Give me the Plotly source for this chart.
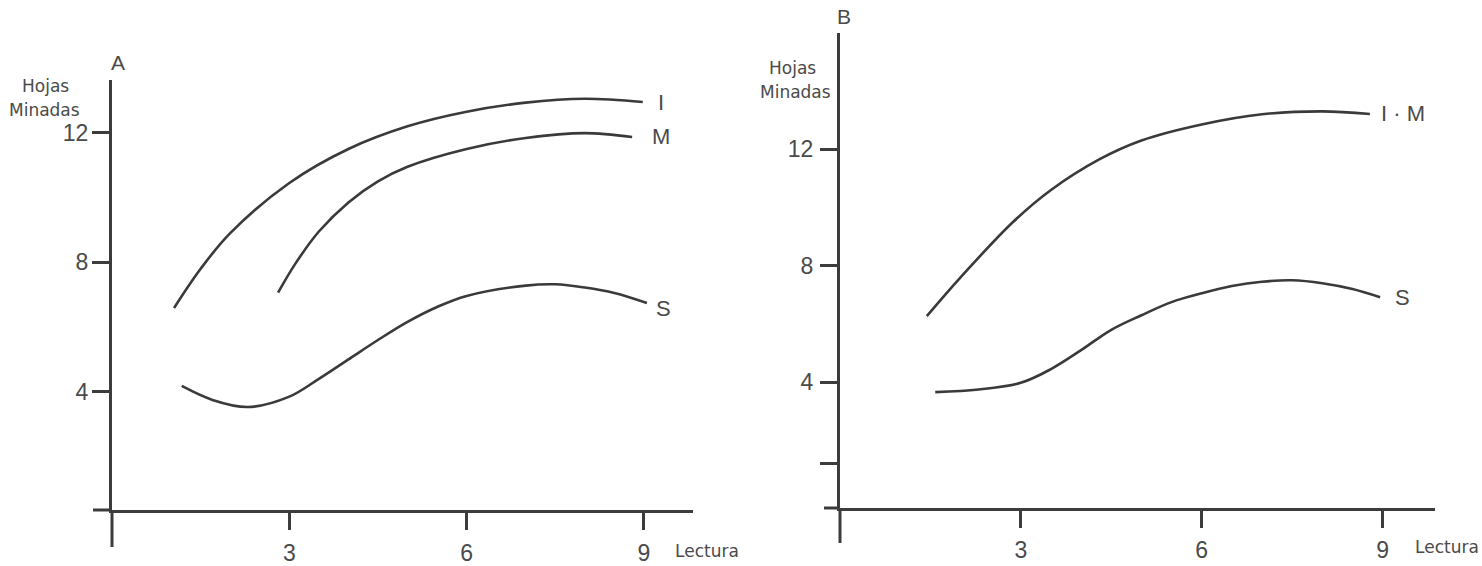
import plotly.graph_objects as go

# ---- data ----
# Panel A
a_I_x = [1.05, 1.5, 2.0, 3.0, 4.0, 5.0, 6.0, 7.0, 8.0, 8.98]
a_I_y = [6.59, 7.8, 8.9, 10.45, 11.5, 12.2, 12.65, 12.93, 13.05, 12.95]
a_M_x = [2.81, 3.1, 3.5, 4.0, 4.5, 5.0, 6.0, 7.0, 8.0, 8.8]
a_M_y = [7.06, 7.95, 8.95, 9.85, 10.5, 10.95, 11.5, 11.84, 11.99, 11.87]
a_S_x = [1.18, 1.7, 2.3, 3.0, 3.5, 4.0, 4.5, 5.0, 5.5, 6.0, 7.0, 7.5, 8.0, 8.5, 9.05]
a_S_y = [4.18, 3.75, 3.53, 3.85, 4.4, 5.0, 5.6, 6.16, 6.62, 6.96, 7.28, 7.32, 7.22, 7.05, 6.74]
# Panel B
b_IM_x = [1.44, 2.0, 2.87, 3.5, 4.3, 5.0, 6.0, 7.0, 8.0, 8.79]
b_IM_y = [6.27, 7.6, 9.5, 10.6, 11.65, 12.3, 12.85, 13.2, 13.3, 13.21]
b_S_x = [1.58, 2.3, 3.0, 3.5, 4.0, 4.5, 5.0, 5.5, 6.0, 6.5, 7.0, 7.5, 8.0, 8.5, 8.96]
b_S_y = [3.66, 3.75, 3.98, 4.45, 5.1, 5.8, 6.3, 6.75, 7.05, 7.3, 7.45, 7.5, 7.4, 7.2, 6.92]

x_tickvals = [3, 6, 9]
x_ticktext = ["3", "6", "9"]
a_y_tickvals = [4, 8, 12]
a_y_ticktext = ["4", "8", "12"]
b_y_tickvals = [1.2, 4, 8, 12]
b_y_ticktext = ["", "4", "8", "12"]

W, H = 1482, 566
LINE = "#3a3a3a"
TXT = "#4a4a4a"
AX = "#3c3c3c"

fig = go.Figure()

def curve(x, y, xa, ya):
    fig.add_trace(go.Scatter(x=x, y=y, mode="lines", xaxis=xa, yaxis=ya,
                             line=dict(color=LINE, width=2.6, shape="spline", smoothing=1.0),
                             showlegend=False, hoverinfo="skip"))

curve(a_I_x, a_I_y, "x", "y")
curve(a_M_x, a_M_y, "x", "y")
curve(a_S_x, a_S_y, "x", "y")
curve(b_IM_x, b_IM_y, "x2", "y2")
curve(b_S_x, b_S_y, "x2", "y2")

tickfont = dict(family="Liberation Sans", size=23, color=TXT)

def px2fx(px):
    return px / W

def py2fy(py):
    return 1 - py / H

axis_common = dict(showgrid=False, zeroline=False, showline=True, linecolor=AX, linewidth=3,
                   ticks="outside", ticklen=17, tickwidth=3, tickcolor=AX, tickfont=tickfont,
                   fixedrange=True)

fig.update_layout(
    width=W, height=H,
    margin=dict(l=0, r=0, t=0, b=0),
    paper_bgcolor="white", plot_bgcolor="rgba(0,0,0,0)",
    xaxis=dict(domain=[px2fx(112), px2fx(693)], range=[0, 9.83], anchor="y",
               tickvals=x_tickvals, ticktext=x_ticktext, ticklabelstandoff=3, **axis_common),
    yaxis=dict(domain=[py2fy(510), py2fy(80)], range=[0.349, 13.63], anchor="x",
               tickvals=a_y_tickvals, ticktext=a_y_ticktext, ticklabelstandoff=-1, **axis_common),
    xaxis2=dict(domain=[px2fx(840), px2fx(1435)], range=[0, 9.87], anchor="y2",
                tickvals=x_tickvals, ticktext=x_ticktext, ticklabelstandoff=2, **axis_common),
    yaxis2=dict(domain=[py2fy(508), py2fy(33)], range=[-0.32, 15.99], anchor="x2",
                tickvals=b_y_tickvals, ticktext=b_y_ticktext, ticklabelstandoff=2, **axis_common),
)

# axis overhangs (the drawn axes cross and extend past each other)
shapes = []
for xr, yr, ydown, xleft in [("x domain", "y domain", -0.086, -0.0327),
                             ("x2 domain", "y2 domain", -0.0737, -0.0269)]:
    shapes.append(dict(type="line", xref=xr, yref=yr, x0=0, x1=0, y0=ydown, y1=0,
                       line=dict(color=AX, width=3)))
    shapes.append(dict(type="line", xref=xr, yref=yr, x0=xleft, x1=0, y0=0, y1=0,
                       line=dict(color=AX, width=3)))
fig.update_layout(shapes=shapes)

anns = []
lab_font = dict(family="Liberation Sans", size=22, color=TXT)
small_font = dict(family="DejaVu Sans", size=17, color=TXT)

def ann_paper(text, px, py, font, xanchor="center"):
    anns.append(dict(text=text, x=px2fx(px), y=py2fy(py), xref="paper", yref="paper",
                     xanchor=xanchor, yanchor="middle", showarrow=False, font=font))

# series labels at ends of curves
def end_label(text, xs, ys, xr, yr, xshift, yshift=0):
    anns.append(dict(text=text, x=xs[-1], y=ys[-1], xref=xr, yref=yr, xanchor="left",
                     yanchor="middle", xshift=xshift, yshift=yshift, showarrow=False,
                     font=lab_font))

end_label("I", a_I_x, a_I_y, "x", "y", 13)
end_label("M", a_M_x, a_M_y, "x", "y", 18)
end_label("S", a_S_x, a_S_y, "x", "y", 7, -5)
end_label("I · M", b_IM_x, b_IM_y, "x2", "y2", 9)
end_label("S", b_S_x, b_S_y, "x2", "y2", 13)

# panel letters and axis titles
ann_paper("A", 118, 62, dict(family="Liberation Sans", size=21, color=TXT))
ann_paper("B", 844, 17, dict(family="Liberation Sans", size=21, color=TXT))
ann_paper("Hojas", 45, 86, small_font)
ann_paper("Minadas", 44, 110, small_font)
ann_paper("Hojas", 792, 68, small_font)
ann_paper("Minadas", 795, 92, small_font)
ann_paper("Lectura", 707, 551, small_font)
ann_paper("Lectura", 1447, 547, small_font)

fig.update_layout(annotations=anns)

fig.write_html("out.html")
